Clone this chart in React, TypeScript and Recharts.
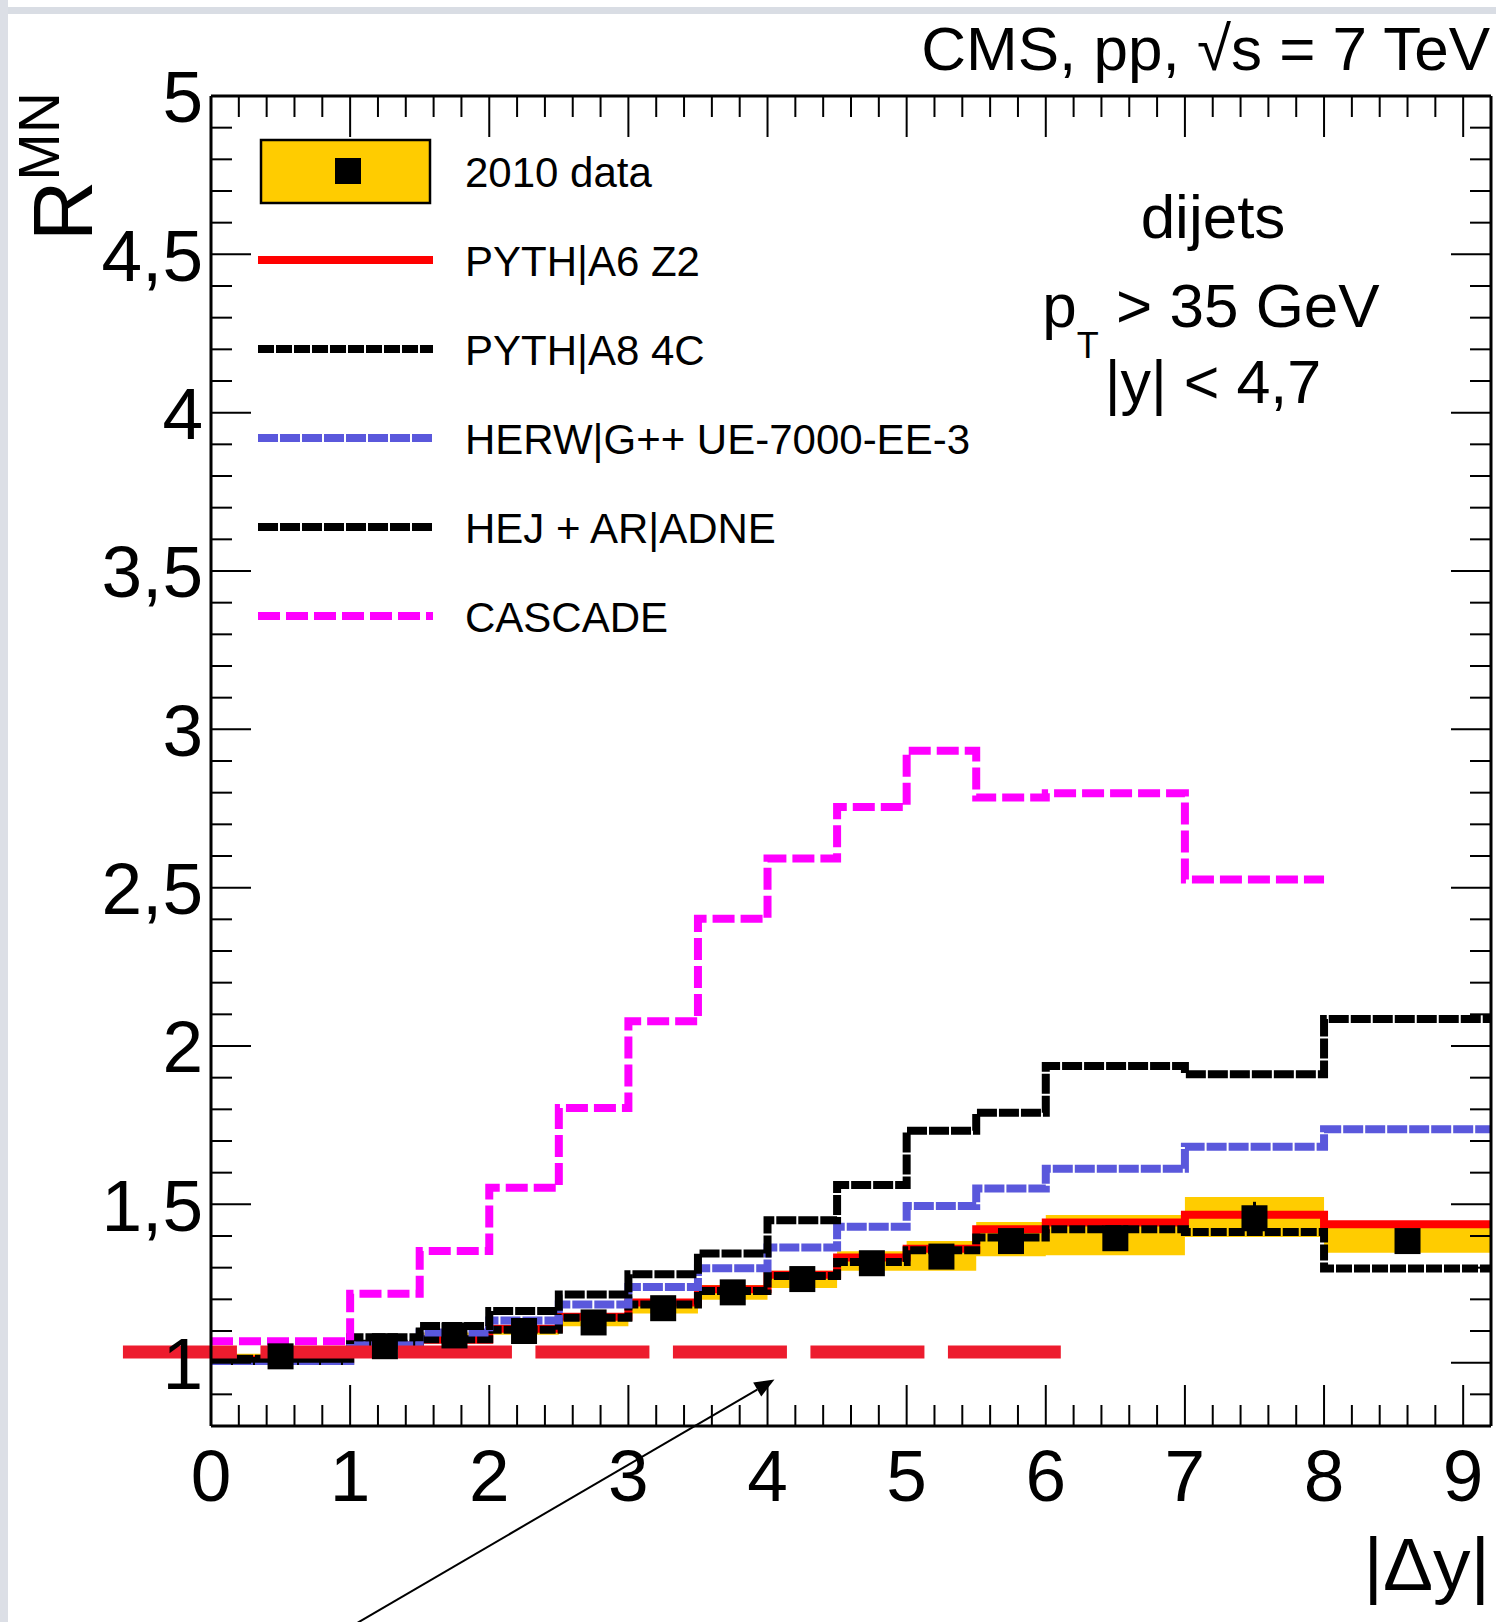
import React from 'react';
import {
  ComposedChart,
  Line,
  Area,
  Scatter,
  XAxis,
  YAxis,
  ReferenceLine,
  Legend,
  ErrorBar,
} from 'recharts';

// ---------- data ----------
const BIN_EDGES = [0, 1, 1.5, 2, 2.5, 3, 3.5, 4, 4.5, 5, 5.5, 6, 7, 8, 9.2];

const DATA_VALUES = [1.02, 1.052, 1.086, 1.1, 1.127, 1.172, 1.222, 1.264, 1.314, 1.335, 1.384, 1.393, 1.456, 1.384];
const DATA_STAT_ERR = [0.003, 0.004, 0.005, 0.006, 0.007, 0.008, 0.01, 0.012, 0.014, 0.016, 0.02, 0.02, 0.052, 0.03];
const SYST_LOW = [1.012, 1.045, 1.077, 1.088, 1.115, 1.155, 1.199, 1.236, 1.29, 1.29, 1.336, 1.339, 1.397, 1.347];
const SYST_HIGH = [1.028, 1.06, 1.095, 1.112, 1.14, 1.19, 1.245, 1.29, 1.352, 1.384, 1.444, 1.466, 1.523, 1.43];

const PYTHIA6_Z2 = [1.01, 1.055, 1.072, 1.107, 1.145, 1.19, 1.232, 1.278, 1.332, 1.36, 1.421, 1.443, 1.467, 1.437];
const PYTHIA8_4C = [1.005, 1.06, 1.074, 1.104, 1.142, 1.184, 1.226, 1.274, 1.318, 1.355, 1.395, 1.421, 1.413, 1.297];
const HERWIG_PP = [1.005, 1.055, 1.095, 1.133, 1.184, 1.239, 1.298, 1.364, 1.429, 1.495, 1.55, 1.612, 1.682, 1.737];
const HEJ_ARIADNE = [1.012, 1.08, 1.116, 1.163, 1.215, 1.279, 1.345, 1.45, 1.561, 1.732, 1.789, 1.937, 1.911, 2.085];
const CASCADE = [1.068, 1.218, 1.353, 1.552, 1.804, 2.078, 2.402, 2.592, 2.755, 2.932, 2.785, 2.798, 2.526];

const X_TICK_LABELS = ['0', '1', '2', '3', '4', '5', '6', '7', '8', '9'];
const Y_MAJOR_VALUES = [1, 1.5, 2, 2.5, 3, 3.5, 4, 4.5, 5];
const Y_TICK_LABELS = ['1', '1,5', '2', '2,5', '3', '3,5', '4', '4,5', '5'];

const LEGEND_LABELS = ['2010 data', 'PYTH|A6 Z2', 'PYTH|A8 4C', 'HERW|G++ UE-7000-EE-3', 'HEJ + AR|ADNE', 'CASCADE'];

// annotation (red dashed line and arrow), in data units
const ANNOT_LINE = [{ x: -0.633, y: 1.034 }, { x: 6.108, y: 1.034 }];
const ANNOT_ARROW = [{ x: 1.055, y: 0.179 }, { x: 4.05, y: 0.947 }];

// ---------- derived tables ----------
const NB = DATA_VALUES.length;
const pick = (arr: number[], i: number) =>
  i < arr.length ? arr[i] : i === arr.length ? arr[arr.length - 1] : null;

const rows = BIN_EDGES.map((x, i) => {
  const k = Math.min(i, NB - 1);
  return {
    x,
    band: [SYST_LOW[k], SYST_HIGH[k]],
    p6: pick(PYTHIA6_Z2, i),
    p8: pick(PYTHIA8_4C, i),
    hw: pick(HERWIG_PP, i),
    hej: pick(HEJ_ARIADNE, i),
    cas: pick(CASCADE, i),
  };
});

const points = DATA_VALUES.map((y, i) => ({
  x: (BIN_EDGES[i] + BIN_EDGES[i + 1]) / 2,
  y,
  err: DATA_STAT_ERR[i],
}));

const X_TICKS = Array.from({ length: 46 }, (_, i) => Math.round(i * 2) / 10);
const Y_TICKS = Array.from({ length: 42 }, (_, i) => Math.round(9 + i) / 10);

const FONT = '"Liberation Sans", Arial, Helvetica, sans-serif';
const RED = '#FF0000';
const BLUE = '#5a58dc';
const MAGENTA = '#FF00FF';
const YELLOW = '#FFCC00';

const SERIES_STYLE = [
  null,
  { color: RED, dash: undefined as string | undefined },
  { color: '#000000', dash: '16 2' },
  { color: BLUE, dash: '20 2' },
  { color: '#000000', dash: '20 2' },
  { color: MAGENTA, dash: '22 6' },
];

const isInt = (v: number) => Math.abs(v - Math.round(v)) < 1e-6;
const yMajorIndex = (v: number) => Y_MAJOR_VALUES.findIndex((m) => Math.abs(m - v) < 1e-6);

// ---------- tick renderers ----------
const BottomTick = (props: any) => {
  const { x, y, payload } = props;
  const v = payload.value;
  const major = isInt(v);
  return (
    <g>
      <line x1={x} y1={y} x2={x} y2={y - (major ? 41 : 21)} stroke="#000" strokeWidth={2} />
      {major && (
        <text x={x} y={y + 75} textAnchor="middle" fontSize={73} fontFamily={FONT} fill="#000">
          {X_TICK_LABELS[Math.round(v)]}
        </text>
      )}
    </g>
  );
};

const TopTick = (props: any) => {
  const { x, y, payload } = props;
  const major = isInt(payload.value);
  return <line x1={x} y1={y} x2={x} y2={y + (major ? 41 : 21)} stroke="#000" strokeWidth={2} />;
};

const LeftTick = (props: any) => {
  const { x, y, payload } = props;
  const idx = yMajorIndex(payload.value);
  const major = idx >= 0;
  return (
    <g>
      <line x1={x} y1={y} x2={x + (major ? 40 : 21)} y2={y} stroke="#000" strokeWidth={2} />
      {major && (
        <text x={x - 8} y={y} dy="0.36em" textAnchor="end" fontSize={73} fontFamily={FONT} fill="#000">
          {Y_TICK_LABELS[idx]}
        </text>
      )}
    </g>
  );
};

const RightTick = (props: any) => {
  const { x, y, payload } = props;
  const major = yMajorIndex(payload.value) >= 0;
  return <line x1={x} y1={y} x2={x - (major ? 40 : 21)} y2={y} stroke="#000" strokeWidth={2} />;
};

const Square = (props: any) => {
  const { cx, cy } = props;
  if (cx == null || cy == null) return null;
  return <rect x={cx - 13} y={cy - 13} width={26} height={26} fill="#000" />;
};

const Arrow = (props: any) => {
  const { x1, y1, x2, y2 } = props;
  const dx = x2 - x1;
  const dy = y2 - y1;
  const len = Math.sqrt(dx * dx + dy * dy) || 1;
  const ux = dx / len;
  const uy = dy / len;
  const L = 20;
  const W = 8;
  const bx = x2 - ux * L;
  const by = y2 - uy * L;
  const pts = `${x2},${y2} ${bx - uy * W},${by + ux * W} ${bx + uy * W},${by - ux * W}`;
  return (
    <g>
      <line x1={x1} y1={y1} x2={bx} y2={by} stroke="#000" strokeWidth={2} />
      <polygon points={pts} fill="#000" />
    </g>
  );
};

const renderYTitle = () => (
  <text
    x={92}
    y={92}
    transform="rotate(-90, 92, 92)"
    textAnchor="end"
    fontSize={84}
    fontFamily={FONT}
    fill="#000"
  >
    R<tspan fontSize={57} dy={-33}>MN</tspan>
  </text>
);

const renderXTitle = () => (
  <text x={1490} y={1590} textAnchor="end" fontSize={75} fontFamily={FONT} fill="#000">
    |Δy|
  </text>
);

const renderLegend = () => (
  <svg width={1496} height={700} style={{ display: 'block', overflow: 'visible' }}>
    {LEGEND_LABELS.map((label, i) => {
      const cy = 171 + i * 89;
      const st = SERIES_STYLE[i];
      return (
        <g key={label}>
          {i === 0 ? (
            <g>
              <rect x={261} y={140} width={169} height={63} fill={YELLOW} stroke="#000" strokeWidth={2.5} />
              <rect x={335} y={cy - 13} width={26} height={26} fill="#000" />
            </g>
          ) : (
            <line
              x1={258}
              x2={433}
              y1={cy}
              y2={cy}
              stroke={st!.color}
              strokeWidth={8}
              strokeDasharray={st!.dash}
            />
          )}
          <text x={465} y={cy + 15.5} fontSize={42} fontFamily={FONT} fill="#000">
            {label}
          </text>
        </g>
      );
    })}
    <text x={1490} y={70} textAnchor="end" fontSize={62} fontFamily={FONT} fill="#000">
      CMS, pp, √s = 7 TeV
    </text>
    <text x={1213} y={238} textAnchor="middle" fontSize={62} fontFamily={FONT} fill="#000">
      dijets
    </text>
    <text x={1211} y={327} textAnchor="middle" fontSize={62} fontFamily={FONT} fill="#000">
      p<tspan fontSize={36} dy={31}>T</tspan>
      <tspan dy={-31}> &gt; 35 GeV</tspan>
    </text>
    <text x={1213} y={403} textAnchor="middle" fontSize={61} fontFamily={FONT} fill="#000">
      |y| &lt; 4,7
    </text>
  </svg>
);

export default function App() {
  return (
    <div
      style={{
        position: 'absolute',
        left: 0,
        top: 0,
        width: 1496,
        height: 1622,
        background: '#fff',
        overflow: 'hidden',
      }}
    >
      <div style={{ position: 'absolute', left: 0, top: 7, width: 1496, height: 7, background: '#d9dde4' }} />
      <div style={{ position: 'absolute', left: 0, top: 0, width: 8, height: 1622, background: '#dcdfe6' }} />
      <div style={{ position: 'absolute', left: 0, top: 0 }}>
        <ComposedChart
          width={1496}
          height={1622}
          data={rows}
          margin={{ top: 95, right: 4, bottom: 195, left: 210 }}
          style={{ overflow: 'visible' }}
        >
          <XAxis
            xAxisId="x"
            dataKey="x"
            type="number"
            domain={[0, 9.2]}
            allowDataOverflow
            ticks={X_TICKS}
            interval={0}
            height={1}
            tickSize={0}
            tickMargin={0}
            tickLine={false}
            tick={BottomTick}
            axisLine={{ stroke: '#000', strokeWidth: 3 }}
            label={renderXTitle}
          />
          <XAxis
            xAxisId="top"
            orientation="top"
            dataKey="x"
            type="number"
            domain={[0, 9.2]}
            allowDataOverflow
            ticks={X_TICKS}
            interval={0}
            height={1}
            tickSize={0}
            tickMargin={0}
            tickLine={false}
            tick={TopTick}
            axisLine={{ stroke: '#000', strokeWidth: 3 }}
          />
          <YAxis
            yAxisId="y"
            type="number"
            domain={[0.8, 5]}
            allowDataOverflow
            ticks={Y_TICKS}
            interval={0}
            width={1}
            tickSize={0}
            tickMargin={0}
            tickLine={false}
            tick={LeftTick}
            axisLine={{ stroke: '#000', strokeWidth: 3 }}
            label={renderYTitle}
          />
          <YAxis
            yAxisId="yr"
            orientation="right"
            type="number"
            domain={[0.8, 5]}
            allowDataOverflow
            ticks={Y_TICKS}
            interval={0}
            width={1}
            tickSize={0}
            tickMargin={0}
            tickLine={false}
            tick={RightTick}
            axisLine={{ stroke: '#000', strokeWidth: 3 }}
          />

          <Area
            xAxisId="x"
            yAxisId="y"
            dataKey="band"
            type="stepAfter"
            fill={YELLOW}
            fillOpacity={1}
            stroke="none"
            isAnimationActive={false}
            activeDot={false}
          />
          <Line xAxisId="x" yAxisId="y" dataKey="p6" type="stepAfter" stroke={RED} strokeWidth={8}
            dot={false} activeDot={false} isAnimationActive={false} strokeLinejoin="miter" />
          <Line xAxisId="x" yAxisId="y" dataKey="p8" type="stepAfter" stroke="#000" strokeWidth={8}
            strokeDasharray="16 2" dot={false} activeDot={false} isAnimationActive={false} strokeLinejoin="miter" />
          <Line xAxisId="x" yAxisId="y" dataKey="hw" type="stepAfter" stroke={BLUE} strokeWidth={8}
            strokeDasharray="20 2" dot={false} activeDot={false} isAnimationActive={false} strokeLinejoin="miter" />
          <Line xAxisId="x" yAxisId="y" dataKey="hej" type="stepAfter" stroke="#000" strokeWidth={8}
            strokeDasharray="20 2" dot={false} activeDot={false} isAnimationActive={false} strokeLinejoin="miter" />
          <Line xAxisId="x" yAxisId="y" dataKey="cas" type="stepAfter" stroke={MAGENTA} strokeWidth={8}
            strokeDasharray="22 6" dot={false} activeDot={false} isAnimationActive={false} strokeLinejoin="miter" />

          <ReferenceLine
            xAxisId="x"
            yAxisId="y"
            segment={ANNOT_LINE}
            ifOverflow="visible"
            stroke="#ED1C2E"
            strokeWidth={13}
            strokeDasharray="114 23.5"
          />
          <ReferenceLine
            xAxisId="x"
            yAxisId="y"
            segment={ANNOT_ARROW}
            ifOverflow="visible"
            stroke="#000"
            strokeWidth={2}
            shape={Arrow}
          />

          <Scatter
            xAxisId="x"
            yAxisId="y"
            data={points}
            dataKey="y"
            shape={Square}
            isAnimationActive={false}
          >
            <ErrorBar dataKey="err" direction="y" width={0} stroke="#000" strokeWidth={3} isAnimationActive={false} />
          </Scatter>

          <Legend
            layout="horizontal"
            verticalAlign="middle"
            align="center"
            content={renderLegend}
            wrapperStyle={{ left: 0, top: 0, width: 1496, height: 700, pointerEvents: 'none' }}
          />
        </ComposedChart>
      </div>
    </div>
  );
}
